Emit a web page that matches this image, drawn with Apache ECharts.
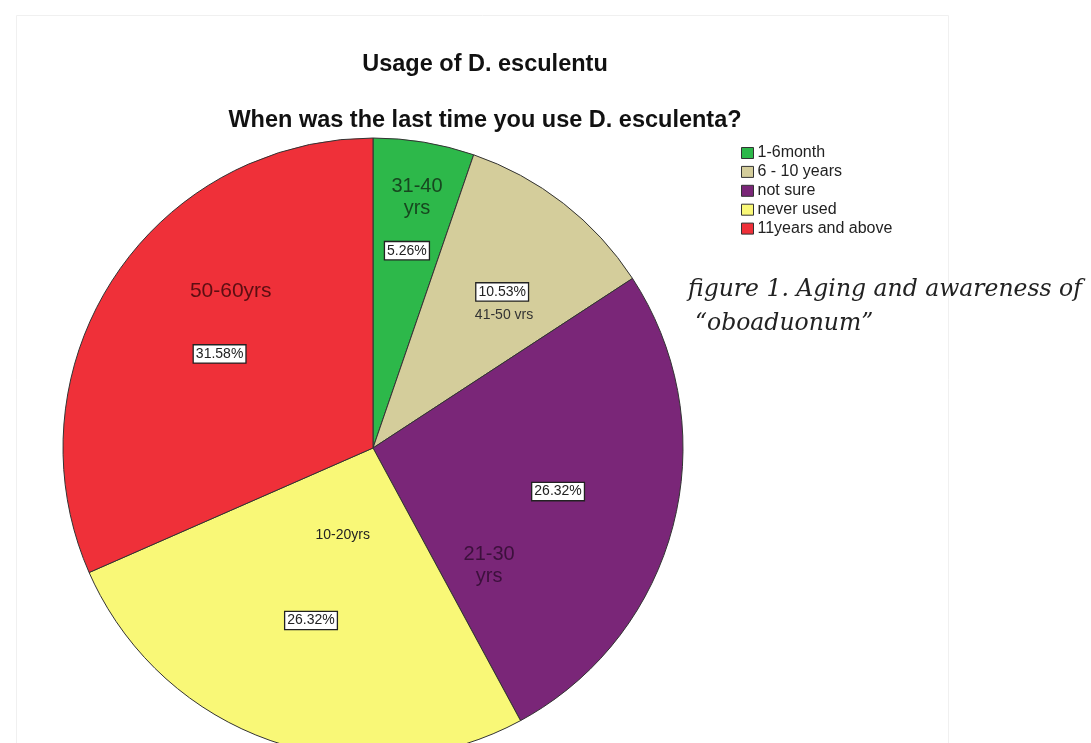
<!DOCTYPE html>
<html>
<head>
<meta charset="utf-8">
<script src="https://cdn.jsdelivr.net/npm/echarts@6/dist/echarts.min.js"></script>
<style>
html,body{margin:0;padding:0;background:#fff;}
#chart{width:1091px;height:743px;}
</style>
</head>
<body>
<div id="chart"></div>
<script>
// ---- data ----
const categories = ['1-6month', '6 - 10 years', 'not sure', 'never used', '11years and above'];
const counts = [1, 2, 5, 5, 6];            // 5.26%, 10.53%, 26.32%, 26.32%, 31.58%
const percentLabels = ['5.26%', '10.53%', '26.32%', '26.32%', '31.58%'];
const ageLabels = ['31-40\nyrs', '41-50 vrs', '21-30\nyrs', '10-20yrs', '50-60yrs'];
const titleText = 'Usage of D. esculentu';
const subtitleText = 'When was the last time you use D. esculenta?';
const captionLines = ['figure 1. Aging and awareness of', '\u201coboaduonum\u201d'];

// ---- styles ----
const colors = ['#2db84a', '#d4cd9b', '#7a2678', '#f9f877', '#ef3039'];
const ageColors = ['#17471f', '#333333', '#3c103c', '#222222', '#5c0e12'];
const ageSizes = [20, 14, 20, 14, 21];
const ageOffsets = [[18, -95], [34, -8], [-37, 79], [21, -62], [-10, -70]];
const pctAdjust = [[2, -6], [10, -3], [-3, -4], [1, -11], [9, 12]];
const R = 310;
const CX = 373, CY = 448;

const total = counts.reduce((a, b) => a + b, 0);
let acc = 0;
const pctOffsets = counts.map((v, i) => {
  const mid = 90 - (acc + v / 2) / total * 360;
  acc += v;
  const rad = mid * Math.PI / 180;
  const d = 36;
  return [d * Math.cos(rad) + pctAdjust[i][0], -d * Math.sin(rad) + pctAdjust[i][1]];
});

const mainData = categories.map((c, i) => ({
  name: c, value: counts[i],
  itemStyle: { color: colors[i] },
  label: { offset: pctOffsets[i] }
}));
const ageData = categories.map((c, i) => ({
  name: c, value: counts[i],
  label: { offset: ageOffsets[i], color: ageColors[i], fontSize: ageSizes[i], lineHeight: ageSizes[i] + 2 }
}));

const chart = echarts.init(document.getElementById('chart'), null, { renderer: 'canvas' });
chart.setOption({
  backgroundColor: '#fff',
  animation: false,
  graphic: [
    { type: 'rect', left: 14, top: 13, shape: { width: 932, height: 740 }, style: { fill: 'none', stroke: '#f0f0f0', lineWidth: 1 }, silent: true, z: -1 },
    { type: 'text', left: 688, top: 278, style: { text: captionLines[0], font: 'italic 23.5px "DejaVu Serif"', fill: '#222' } },
    { type: 'text', left: 695, top: 312, style: { text: captionLines[1], font: 'italic 23.5px "DejaVu Serif"', fill: '#222' } }
  ],
  title: [
    { text: titleText, left: 480, top: 48, textAlign: 'center', textStyle: { fontFamily: 'Liberation Sans', fontWeight: 'bold', fontSize: 23.5, color: '#111' } },
    { text: subtitleText, left: 480, top: 104, textAlign: 'center', textStyle: { fontFamily: 'Liberation Sans', fontWeight: 'bold', fontSize: 23.5, color: '#111' } }
  ],
  legend: {
    orient: 'vertical', left: 736, top: 140,
    data: categories,
    icon: 'rect', itemWidth: 12, itemHeight: 11, itemGap: 2.9,
    itemStyle: { borderColor: '#333', borderWidth: 1 },
    textStyle: { fontFamily: 'Liberation Sans', fontSize: 16, lineHeight: 14, color: '#222', padding: [0, 0, 0, -1] }
  },
  series: [
    {
      type: 'pie', center: [CX, CY], radius: [0, R],
      startAngle: 90, clockwise: true, silent: true,
      itemStyle: { borderColor: '#333', borderWidth: 1 },
      label: {
        show: true, position: 'inside',
        formatter: p => percentLabels[p.dataIndex],
        fontFamily: 'Liberation Sans', fontSize: 14, color: '#222',
        backgroundColor: '#fff', borderColor: '#222', borderWidth: 1.3,
        padding: [2, 2, 1, 2]
      },
      labelLine: { show: false },
      data: mainData
    },
    {
      type: 'pie', center: [CX, CY], radius: [0, R],
      startAngle: 90, clockwise: true, silent: true,
      itemStyle: { color: 'rgba(0,0,0,0)', borderWidth: 0 },
      label: {
        show: true, position: 'inside',
        formatter: p => ageLabels[p.dataIndex],
        fontFamily: 'Liberation Sans', align: 'center'
      },
      labelLine: { show: false },
      legendHoverLink: false,
      data: ageData
    }
  ]
});
</script>
</body>
</html>
